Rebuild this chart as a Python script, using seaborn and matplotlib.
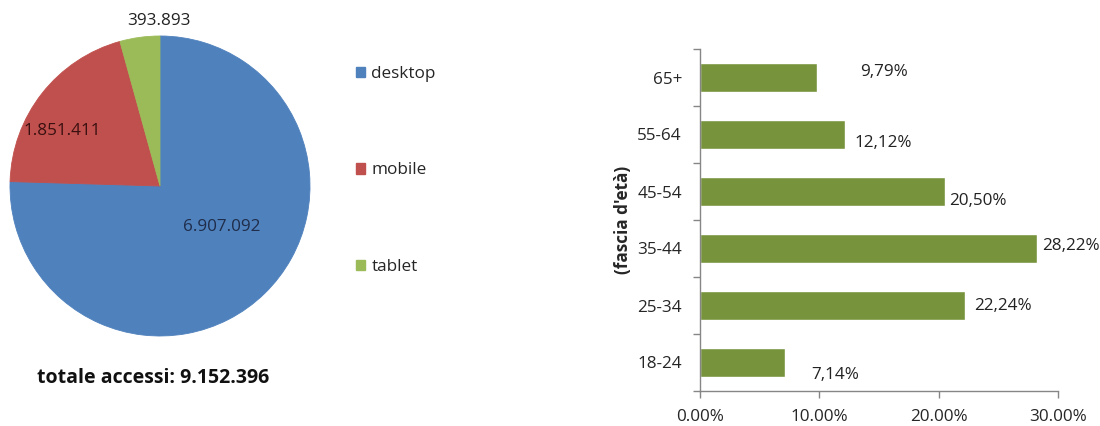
import matplotlib
matplotlib.use("Agg")
import matplotlib.pyplot as plt
from matplotlib.patches import Patch
import seaborn as sns
import pandas as pd
import numpy as np

# ---- data ----
devices = ["desktop", "mobile", "tablet"]
accessi = [6907092, 1851411, 393893]
accessi_labels = ["6.907.092", "1.851.411", "393.893"]
totale_label = "totale accessi: 9.152.396"

fasce = ["65+", "55-64", "45-54", "35-44", "25-34", "18-24"]
quote = [9.79, 12.12, 20.50, 28.22, 22.24, 7.14]
quote_labels = ["9,79%", "12,12%", "20,50%", "28,22%", "22,24%", "7,14%"]
x_ticks = [0, 10, 20, 30]
x_tick_labels = ["0.00%", "10.00%", "20.00%", "30.00%"]

# ---- style ----
sns.set_theme(style="white")
plt.rcParams["font.family"] = ["Open Sans", "DejaVu Sans"]
pie_colors = ["#4F81BD", "#C0504D", "#9BBB59"]
bar_color = "#77933C"
axis_color = "#868686"
fs = 12.3
# label offsets (points) mimicking Excel label placement
lab_dx = [31, 7, 3, 4, 6, 19]
lab_dy = [4, -6, -7, 2, 0, -9]

fig = plt.figure(figsize=(11, 4.26), dpi=100)

# ---- pie ----
ax1 = fig.add_axes([10/1100, (426-336)/426, 300/1100, 300/426])
wedges, _ = ax1.pie(accessi, colors=pie_colors, startangle=90, counterclock=False,
                    wedgeprops=dict(linewidth=0.6))
for w, c in zip(wedges, pie_colors):
    w.set_edgecolor(c)
ax1.set_xlim(-1.0, 1.0)
ax1.set_ylim(-1.0, 1.0)
ax1.set_aspect("equal")
ax1.text(0.41, -0.27, accessi_labels[0], ha="center", va="center", fontsize=fs, color="#1F2D4A")
ax1.text(-0.65, 0.37, accessi_labels[1], ha="center", va="center", fontsize=fs, color="#3A1010")
ax1.text(-0.01, 1.1, accessi_labels[2], ha="center", va="center", fontsize=fs, color="#222222",
         clip_on=False)

fig.text(37/1100, 1-378/426, totale_label, ha="left", va="center", fontsize=14,
         fontweight="bold", color="#111111")

handles = [Patch(facecolor=c, edgecolor=c) for c in pie_colors]
leg = fig.legend(handles, devices, loc="upper left", bbox_to_anchor=(349/1100, 1-59/426),
                 frameon=False, fontsize=fs, labelspacing=4.72, handlelength=0.55,
                 handleheight=0.55, handletextpad=0.35, borderaxespad=0)

# ---- bars ----
ax2 = fig.add_axes([700/1100, (426-391)/426, 358/1100, 342/426])
df = pd.DataFrame({"fascia": fasce, "quota": quote})
sns.barplot(data=df, x="quota", y="fascia", order=fasce, color=bar_color,
            width=0.5, orient="h", ax=ax2, saturation=1)
ax2.set_xlim(0, 30)
ax2.set_ylim(5.5, -0.5)
ax2.set_xticks(x_ticks)
ax2.set_xticklabels(x_tick_labels, fontsize=fs)
ax2.set_yticks(range(len(fasce)))
ax2.set_yticklabels(fasce, fontsize=fs)
ax2.set_yticks(np.arange(-0.5, len(fasce), 1), minor=True)
ax2.tick_params(axis="y", which="major", length=0, pad=13)
ax2.tick_params(axis="y", which="minor", length=5, direction="out", color=axis_color, width=1, left=True)
ax2.tick_params(axis="x", length=5, direction="out", color=axis_color, width=1, bottom=True, pad=8)
for s in ["top", "right"]:
    ax2.spines[s].set_visible(False)
for s in ["left", "bottom"]:
    ax2.spines[s].set_color(axis_color)
    ax2.spines[s].set_linewidth(1)
ax2.set_xlabel("")
ax2.set_ylabel("(fascia d'età)", fontsize=fs, fontweight="bold", labelpad=4)
for i, (v, lab) in enumerate(zip(quote, quote_labels)):
    ax2.annotate(lab, xy=(v, i), xytext=(lab_dx[i], lab_dy[i]), textcoords="offset points",
                 ha="left", va="center", fontsize=fs, color="#222222")

fig.savefig("out.png", dpi=100, facecolor="white")
